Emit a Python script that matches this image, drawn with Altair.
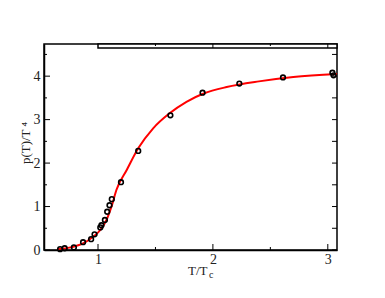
import altair as alt
import pandas as pd

# data points (lattice)
t_pts = [0.67, 0.71, 0.79, 0.87, 0.94, 0.97, 1.02, 1.03, 1.06, 1.08, 1.10, 1.12,
         1.20, 1.35, 1.63, 1.91, 2.23, 2.61, 3.04, 3.05]
p_pts = [0.02, 0.04, 0.06, 0.18, 0.25, 0.36, 0.52, 0.57, 0.69, 0.88, 1.03, 1.17,
         1.56, 2.28, 3.10, 3.62, 3.83, 3.97, 4.08, 4.02]

# fitted curve
t_fit = [0.65, 0.76, 0.87, 0.96, 1.02, 1.08, 1.12, 1.16, 1.25, 1.35, 1.48, 1.62,
         1.77, 1.92, 2.12, 2.40, 2.70, 3.08]
p_fit = [0.02, 0.06, 0.15, 0.31, 0.46, 0.73, 1.02, 1.38, 1.84, 2.34, 2.80, 3.14,
         3.41, 3.60, 3.75, 3.88, 3.98, 4.05]

x_major = [1, 2, 3]
x_minor = [1.5, 2.5]
y_major = [0, 1, 2, 3, 4]
y_minor = [0.5, 1.5, 2.5, 3.5, 4.5]
band_start = [1]

W, H = 293, 206
FONT = "Liberation Serif"
xs = alt.Scale(domain=[0.53, 3.08], nice=False, zero=False)
ys = alt.Scale(domain=[0, 4.74], nice=False, zero=False)

pts = pd.DataFrame({"t": t_pts, "p": p_pts})
fit = pd.DataFrame({"t": t_fit, "p": p_fit})

xaxis = alt.Axis(values=x_major, tickSize=0, labelFont=FONT, labelFontSize=14,
                 labelColor="#222", labelPadding=2, grid=False, title=None,
                 domainColor="black", domainWidth=1.5, format="d")
yaxis = alt.Axis(values=y_major, tickSize=0, labelFont=FONT, labelFontSize=14,
                 labelColor="#222", labelPadding=4, grid=False, title=None,
                 domainColor="black", domainWidth=1.5, format="d")

line = alt.Chart(fit).mark_line(color="#ff0000", strokeWidth=2, interpolate="monotone").encode(
    x=alt.X("t:Q", scale=xs, axis=xaxis),
    y=alt.Y("p:Q", scale=ys, axis=yaxis),
)
points = alt.Chart(pts).mark_point(shape="circle", filled=False, color="black",
                                   size=22, strokeWidth=1.6, opacity=1).encode(
    x=alt.X("t:Q", scale=xs, axis=xaxis),
    y=alt.Y("p:Q", scale=ys, axis=yaxis),
)

def xticks(vals, y0, y1):
    return alt.Chart(pd.DataFrame({"v": vals})).mark_rule(color="black", strokeWidth=1).encode(
        x=alt.X("v:Q", scale=xs, axis=xaxis), y=alt.value(y0), y2=alt.value(y1))

def yticks(vals, x0, x1):
    return alt.Chart(pd.DataFrame({"v": vals})).mark_rule(color="black", strokeWidth=1).encode(
        y=alt.Y("v:Q", scale=ys, axis=yaxis), x=alt.value(x0), x2=alt.value(x1))

band = alt.Chart(pd.DataFrame({"v": band_start})).mark_rect(
    fill="white", stroke="black", strokeWidth=1.5).encode(
    x=alt.X("v:Q", scale=xs, axis=xaxis), x2=alt.value(W),
    y=alt.value(0), y2=alt.value(4))

title_x = alt.Chart(pd.DataFrame({"s": ["T/T"]})).mark_text(
    font=FONT, fontSize=13, align="left", baseline="alphabetic", color="#222").encode(
    text="s:N", x=alt.value(144), y=alt.value(231))
title_xc = alt.Chart(pd.DataFrame({"s": ["c"]})).mark_text(
    font=FONT, fontSize=10, align="left", baseline="alphabetic", color="#222").encode(
    text="s:N", x=alt.value(165), y=alt.value(234))
title_y = alt.Chart(pd.DataFrame({"s": ["p(T)/T \u2074"]})).mark_text(
    font=FONT, fontSize=13, align="center", baseline="alphabetic", angle=270, color="#222").encode(
    text="s:N", x=alt.value(-14), y=alt.value(99))

chart = alt.layer(
    line, points,
    xticks(x_major, H, H - 6), xticks(x_minor, H, H - 3),
    yticks(y_major, 0, 6), yticks(y_minor, 0, 3),
    yticks(y_major, W, W - 5), yticks(y_minor, W, W - 5),
    band, xticks([2, 3], 0, 4), xticks([1.5, 2.5], 0, 2),
    title_x, title_xc, title_y,
).properties(
    width=W, height=H,
    autosize=alt.AutoSizeParams(type="none"),
    padding={"left": 36, "top": 36, "right": 40, "bottom": 40},
).configure(background="white",
            view=alt.ViewConfig(stroke="black", strokeWidth=1.5),
            axis=alt.AxisConfig(labelFont=FONT, labelFontSize=14))

chart.save("out.html", embed_options={"renderer": "svg", "actions": False})
